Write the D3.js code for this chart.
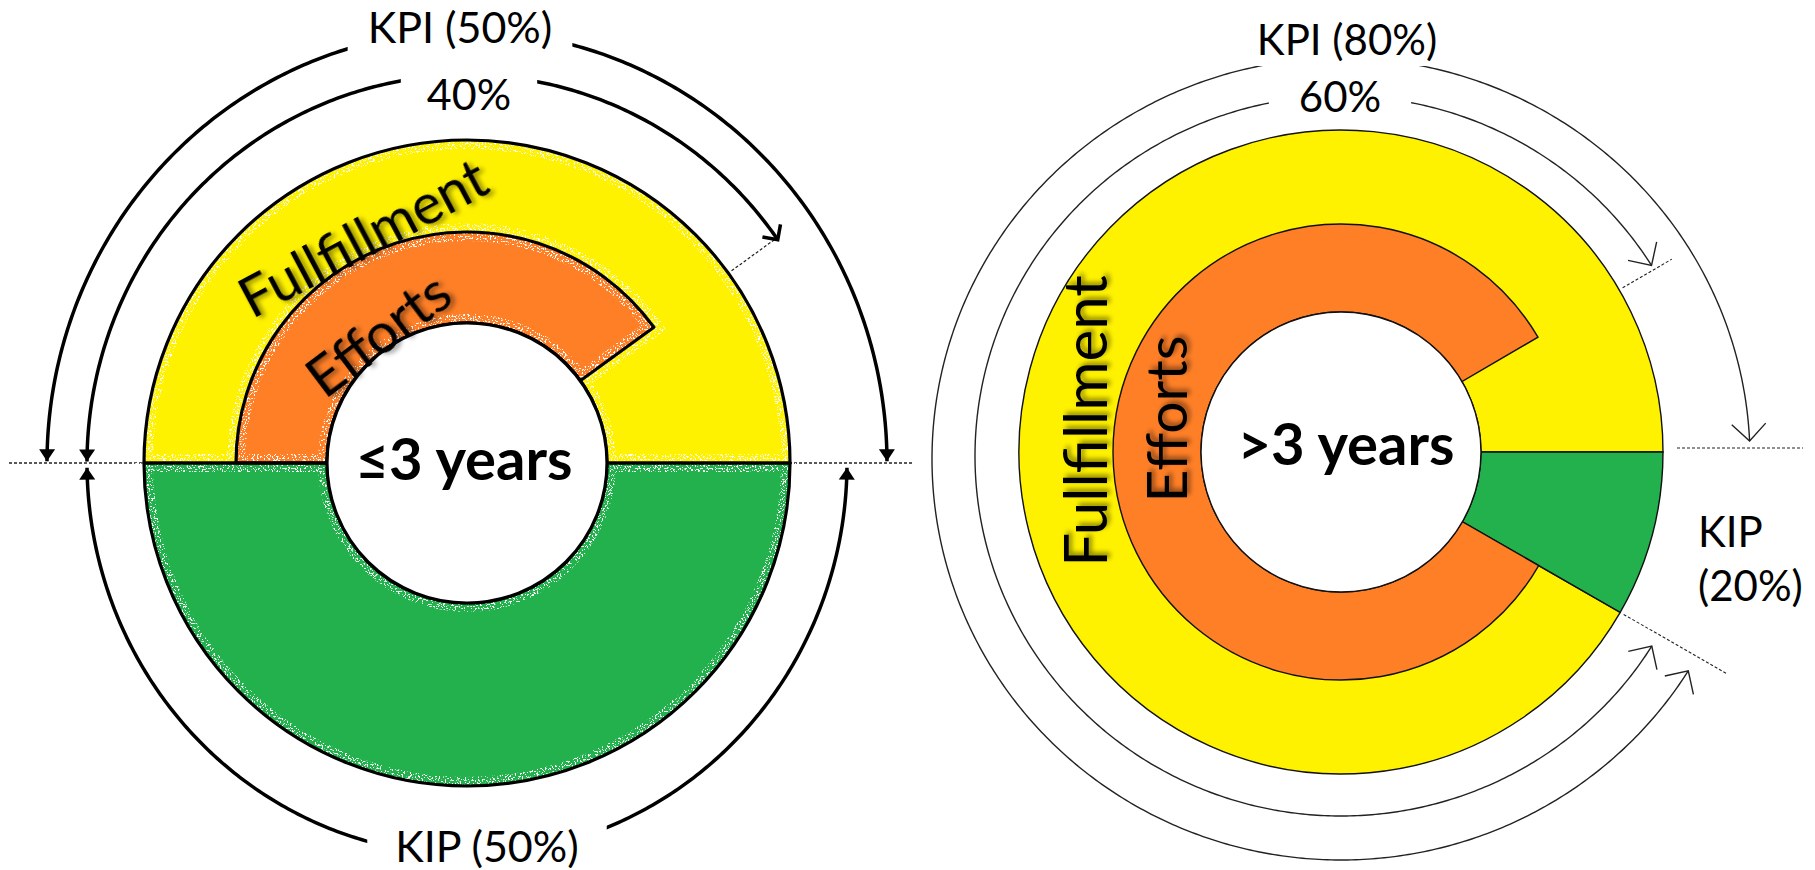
<!DOCTYPE html>
<html><head><meta charset="utf-8">
<script src="https://cdn.jsdelivr.net/npm/d3@7"></script>
<style>html,body{margin:0;padding:0;background:#fff;} svg{display:block;}</style>
</head><body>
<svg id="chart" width="1815" height="870"></svg>
<script>
// ---------------- data ----------------
const groupNames = ["≤3 years", ">3 years"];
const ringNames = ["Fullfillment", "Efforts", "KIP"];
// left chart: shares of the full circle (%)
const leftKpiShare = 50;
const leftEffortsShare = 40;
const leftKipShare = 50;
const leftLabels = ["KPI (50%)", "40%", "KIP (50%)"];
// right chart: shares of the full circle as drawn (%)
const rightKipShare = 8.3;
const rightKpiShare = 91.7;
const rightEffortsShare = 83.3;
const rightLabels = ["KPI (80%)", "60%", "KIP", "(20%)"];
const ringColors = ["#FFF200", "#FF7F27", "#22B14C"];

// ---------------- setup ----------------
const svg = d3.select("#chart");
const FONT = "Lato, 'Open Sans', sans-serif";
const angle = d3.scaleLinear().domain([0, 100]).range([0, 2 * Math.PI]);
const color = d3.scaleOrdinal().domain(ringNames).range(ringColors);

const defs = svg.append("defs");
const sh = defs.append("filter").attr("id", "shadow").attr("x", "-20%").attr("y", "-20%").attr("width", "140%").attr("height", "140%");
sh.append("feDropShadow").attr("dx", 3).attr("dy", 3).attr("stdDeviation", 2.5)
  .attr("flood-color", "#000").attr("flood-opacity", 0.45);

// speckle noise (scan-like artefacts on the left chart)
const nf = defs.append("filter").attr("id", "noise").attr("filterUnits", "userSpaceOnUse")
  .attr("x", -1000).attr("y", -1000).attr("width", 3000).attr("height", 3000);
nf.append("feTurbulence").attr("type", "fractalNoise").attr("baseFrequency", 0.6).attr("numOctaves", 2).attr("seed", 7).attr("result", "t");
nf.append("feColorMatrix").attr("in", "t").attr("type", "matrix")
  .attr("values", "16 0 0 0 -9.2  16 0 0 0 -9.2  16 0 0 0 -9.2  0 0 0 0 1");
const mask = defs.append("mask").attr("id", "speckMask").attr("maskUnits", "userSpaceOnUse")
  .attr("x", -1000).attr("y", -1000).attr("width", 3000).attr("height", 3000);
mask.append("rect").attr("x", -1000).attr("y", -1000).attr("width", 3000).attr("height", 3000)
  .attr("filter", "url(#noise)");

function marker(id, d, fill, stroke, sw) {
  defs.append("marker").attr("id", id).attr("viewBox", "-30 -20 40 40")
    .attr("markerUnits", "userSpaceOnUse").attr("markerWidth", 40).attr("markerHeight", 40)
    .attr("refX", 0).attr("refY", 0).attr("orient", "auto-start-reverse")
    .append("path").attr("d", d).attr("fill", fill).attr("stroke", stroke).attr("stroke-width", sw)
    .attr("stroke-linejoin", "miter");
}
marker("triFill", "M0,0 L-12,-8 L-12,8 Z", "#000", "none", 0);
marker("chevBold", "M-11,-11 L0,0 L-11,11", "none", "#000", 3.5);
marker("chevThin", "M-17,-17 L0,0 L-17,17", "none", "#222", 1.4);

function ellipsePath(cx, cy, rx, ry, a0, a1) {
  const n = Math.max(10, Math.ceil(Math.abs(a1 - a0) / 0.01));
  return d3.line()(d3.range(n + 1).map(i => {
    const a = a0 + (a1 - a0) * i / n;
    return [cx + rx * Math.sin(a), cy - ry * Math.cos(a)];
  }));
}
function polar(cx, cy, r, a) { return [cx + r * Math.sin(a), cy - r * Math.cos(a)]; }

function label(g, txt, x, y, size, padX, padY, opts = {}) {
  const t = g.append("text").attr("x", x).attr("y", y).attr("text-anchor", opts.anchor || "middle")
    .attr("font-family", FONT).attr("font-size", size).attr("fill", "#000").text(txt);
  if (padX !== null) {
    const b = t.node().getBBox();
    g.insert("rect", () => t.node()).attr("x", b.x - padX).attr("y", b.y - padY)
      .attr("width", b.width + 2 * padX).attr("height", b.height + 2 * padY).attr("fill", "#fff");
  }
  return t;
}

// ================= LEFT CHART =================
{
  const cx = 467, cy = 463;
  const rOut = 323, rMid = 231, rIn = 140;
  const g = svg.append("g");
  g.append("line").attr("x1", 9).attr("x2", 912).attr("y1", cy).attr("y2", cy)
    .attr("stroke", "#222").attr("stroke-width", 1.3).attr("stroke-dasharray", "3,2");

  const start = -25; // 9 o'clock
  const arc = d3.arc();
  const donut = g.append("g").attr("transform", `translate(${cx},${cy})`);
  const segs = [
    { name: "Fullfillment", inner: rIn, outer: rOut, a0: angle(start), a1: angle(start + leftKpiShare) },
    { name: "KIP", inner: rIn, outer: rOut, a0: angle(start + leftKpiShare), a1: angle(start + leftKpiShare + leftKipShare) },
    { name: "Efforts", inner: rIn, outer: rMid, a0: angle(start), a1: angle(start + leftEffortsShare) }
  ];
  const segPath = d => arc({ innerRadius: d.inner, outerRadius: d.outer, startAngle: d.a0, endAngle: d.a1 });
  donut.selectAll("path.fill").data(segs).join("path").attr("class", "fill")
    .attr("d", segPath).attr("fill", d => color(d.name));
  // speckled light halo near the outlines
  donut.append("g").attr("mask", "url(#speckMask)")
    .selectAll("path").data(segs).join("path").attr("d", segPath)
    .attr("fill", "none").attr("stroke", "#fff").attr("stroke-width", 18);
  donut.selectAll("path.outline").data(segs).join("path").attr("class", "outline")
    .attr("d", segPath).attr("fill", "none").attr("stroke", "#000").attr("stroke-width", 3.2).attr("stroke-linejoin", "round");
  donut.append("circle").attr("r", rIn).attr("fill", "#fff").attr("stroke", "#000").attr("stroke-width", 3.2);

  // radial dashed tick at efforts end
  const ae = angle(start + leftEffortsShare);
  const p1 = polar(cx, cy, rOut + 4, ae), p2 = polar(cx, cy, 383, ae);
  g.append("line").attr("x1", p1[0]).attr("y1", p1[1]).attr("x2", p2[0]).attr("y2", p2[1])
    .attr("stroke", "#222").attr("stroke-width", 1.2).attr("stroke-dasharray", "3,2");

  // annotation arcs
  const eps = 0.004;
  g.append("path").attr("d", ellipsePath(cx, cy, 420, 432, angle(start) + eps, angle(start + leftKpiShare) - eps))
    .attr("fill", "none").attr("stroke", "#000").attr("stroke-width", 3.5)
    .attr("marker-start", "url(#triFill)").attr("marker-end", "url(#triFill)");
  g.append("path").attr("d", ellipsePath(cx, cy, 380, 388, angle(start) + eps, angle(start + leftEffortsShare) + 0.015))
    .attr("fill", "none").attr("stroke", "#000").attr("stroke-width", 3.5)
    .attr("marker-start", "url(#triFill)").attr("marker-end", "url(#chevBold)");
  g.append("path").attr("d", ellipsePath(cx, cy, 380, 392, angle(start + leftKpiShare) + 0.012, angle(start + 100) - 0.012))
    .attr("fill", "none").attr("stroke", "#000").attr("stroke-width", 3.5)
    .attr("marker-start", "url(#triFill)").attr("marker-end", "url(#triFill)");

  label(g, leftLabels[0], 460, 43, 43, 20, 2);
  label(g, leftLabels[1], 469, 110, 43, 26, 2);
  label(g, leftLabels[2], 487, 862, 43, 28, 2);

  // ring texts
  g.append("text").attr("transform", "translate(362,236) rotate(-28)").attr("text-anchor", "middle")
    .attr("dominant-baseline", "central").attr("font-family", FONT).attr("font-size", 56)
    .attr("filter", "url(#shadow)").text(ringNames[0]);
  g.append("text").attr("transform", "translate(377,333) rotate(-37)").attr("text-anchor", "middle")
    .attr("dominant-baseline", "central").attr("font-family", FONT).attr("font-size", 56)
    .attr("filter", "url(#shadow)").text(ringNames[1]);
  g.append("text").attr("x", 464).attr("y", 480).attr("text-anchor", "middle")
    .attr("font-family", FONT).attr("font-weight", "bold").attr("font-size", 58).text(groupNames[0]);
}

// ================= RIGHT CHART =================
{
  const cx = 1341, cy = 452;
  const rOut = 322, rMid = 228, rIn = 140;
  const g = svg.append("g");
  g.append("line").attr("x1", 1677).attr("x2", 1803).attr("y1", 448).attr("y2", 448)
    .attr("stroke", "#222").attr("stroke-width", 1.2).attr("stroke-dasharray", "3,2");

  const start = 25; // 3 o'clock
  const arc = d3.arc();
  const donut = g.append("g").attr("transform", `translate(${cx},${cy})`);
  const k0 = start, k1 = start + rightKipShare;
  const segs = [
    { name: "Fullfillment", inner: rIn, outer: rOut, a0: angle(k1), a1: angle(k1 + rightKpiShare) },
    { name: "KIP", inner: rIn, outer: rOut, a0: angle(k0), a1: angle(k1) },
    { name: "Efforts", inner: rIn, outer: rMid, a0: angle(k1), a1: angle(k1 + rightEffortsShare) }
  ];
  donut.selectAll("path.seg").data(segs).join("path").attr("class", "seg")
    .attr("d", d => arc({ innerRadius: d.inner, outerRadius: d.outer, startAngle: d.a0, endAngle: d.a1 }))
    .attr("fill", d => color(d.name)).attr("stroke", "#111").attr("stroke-width", 1.4);
  donut.append("circle").attr("r", rIn).attr("fill", "#fff").attr("stroke", "#111").attr("stroke-width", 1.4);

  // radial dashed ticks
  [[angle(k1 + rightEffortsShare), 383], [angle(k1), 445]].forEach(([a, r2]) => {
    const p1 = polar(cx, cy, rOut + 4, a), p2 = polar(cx, cy, r2, a);
    g.append("line").attr("x1", p1[0]).attr("y1", p1[1]).attr("x2", p2[0]).attr("y2", p2[1])
      .attr("stroke", "#222").attr("stroke-width", 1.1).attr("stroke-dasharray", "3,2");
  });

  // annotation arcs
  g.append("path").attr("d", ellipsePath(cx, 459, 409, 401, angle(k1) + 0.035, angle(k1 + rightKpiShare) - 0.045))
    .attr("fill", "none").attr("stroke", "#222").attr("stroke-width", 1.4)
    .attr("marker-start", "url(#chevThin)").attr("marker-end", "url(#chevThin)");
  g.append("path").attr("d", ellipsePath(cx, 456, 366, 360, angle(k1) + 0.035, angle(k1 + rightEffortsShare) - 0.03))
    .attr("fill", "none").attr("stroke", "#222").attr("stroke-width", 1.4)
    .attr("marker-start", "url(#chevThin)").attr("marker-end", "url(#chevThin)");

  label(g, rightLabels[0], 1347, 55, 42, 22, 2);
  label(g, rightLabels[1], 1340, 112, 42, 30, 2);
  label(g, rightLabels[2], 1698, 547, 42, null, null, { anchor: "start" });
  label(g, rightLabels[3], 1698, 601, 42, null, null, { anchor: "start" });

  g.append("text").attr("transform", "translate(1084,421) rotate(-90)").attr("text-anchor", "middle")
    .attr("dominant-baseline", "central").attr("font-family", FONT).attr("font-size", 60)
    .attr("filter", "url(#shadow)").text(ringNames[0]);
  g.append("text").attr("transform", "translate(1165,419) rotate(-90)").attr("text-anchor", "middle")
    .attr("dominant-baseline", "central").attr("font-family", FONT).attr("font-size", 57)
    .attr("filter", "url(#shadow)").text(ringNames[1]);
  g.append("text").attr("x", 1346).attr("y", 465).attr("text-anchor", "middle")
    .attr("font-family", FONT).attr("font-weight", "bold").attr("font-size", 58).text(groupNames[1]);
}
</script>
</body></html>
